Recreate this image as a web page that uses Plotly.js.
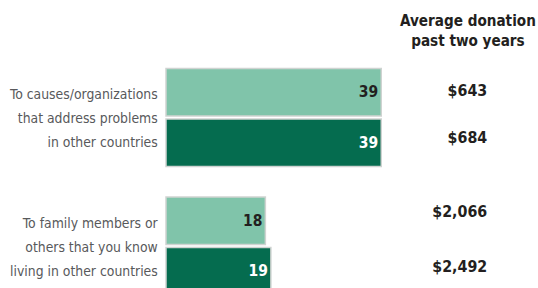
<!DOCTYPE html>
<html>
<head>
<meta charset="utf-8">
<script src="https://cdn.plot.ly/plotly-3.0.1.min.js"></script>
<style>
  html, body { margin: 0; padding: 0; background: #fff; }
  #chart { width: 538px; height: 288px; }
</style>
</head>
<body>
<div id="chart"></div>
<script>
// ---- data ----
const categories = ["To causes/organizations that address problems in other countries",
                    "To family members or others that you know living in other countries"];
const categoryLabels = [
  ["To causes/organizations", "that address problems", "in other countries"],
  ["To family members or", "others that you know", "living in other countries"]
];
const seriesA = [39, 18];          // light bars
const seriesB = [39, 19];          // dark bars
const donationA = ["$643", "$2,066"];
const donationB = ["$684", "$2,492"];
const columnTitle = ["Average donation", "past two years"];

// ---- font selection & fitting (narrow font, sized to the reference widths) ----
const cv = document.createElement("canvas").getContext("2d");
function textW(str, fam, size, weight) {
  cv.font = (weight || "normal") + " " + size + "px " + fam;
  return cv.measureText(str).width;
}
function hasFont(name) {
  const s = "abcdefghijklmnopqrstuvwxyz0123456789";
  return textW(s, "'" + name + "', monospace", 50) !== textW(s, "monospace", 50) ||
         textW(s, "'" + name + "', serif", 50) !== textW(s, "serif", 50);
}
const candidates = ["Liberation Sans Narrow", "DejaVu Sans Condensed", "Liberation Sans"];
const chosen = candidates.find(hasFont) || "Liberation Sans";
const FONT = "'" + chosen + "', sans-serif";
function fit(str, targetW, maxSize, weight) {
  const w = textW(str, FONT, 100, weight);
  return Math.min(maxSize, 100 * targetW / w);
}
const labelSize = fit("To causes/organizations", 148, 17);
const valueSize = fit("$2,066", 55, 18, "bold");
const titleSize = fit("Average donation", 136, 18, "bold");
const barTextSize = fit("39", 21, 15.5, "bold");

const lightColor = "#80c4aa";
const darkColor = "#056c4f";
const borderColor = "#cfd3d1";
const PX_PER_CAT = 128.5;                 // vertical pixels per category step
const px = p => p / PX_PER_CAT;           // pixel offset -> y units
const pos = categories.map((c, i) => i);  // category slots

const traces = [
  {
    type: "bar", orientation: "h", y: pos, x: seriesA, name: "A",
    text: seriesA.map(String), textposition: "inside", insidetextanchor: "end",
    textfont: { family: FONT, size: barTextSize, weight: "bold", color: "#231f20" },
    marker: { color: lightColor, line: { color: borderColor, width: 1.5 } },
    hoverinfo: "none"
  },
  {
    type: "bar", orientation: "h", y: pos, x: seriesB, name: "B",
    text: seriesB.map(String), textposition: "inside", insidetextanchor: "end",
    textfont: { family: FONT, size: barTextSize, weight: "bold", color: "#ffffff" },
    marker: { color: darkColor, line: { color: borderColor, width: 1.5 } },
    hoverinfo: "none"
  }
];

// left category labels (one text point per line)
const lineOffsets = [-21.5, 2.5, 26.5];
const lx = [], ly = [], lt = [];
pos.forEach((p, i) => {
  categoryLabels[i].forEach((line, j) => {
    lx.push(-1.5); ly.push(p + px(lineOffsets[j])); lt.push(line);
  });
});
traces.push({
  type: "scatter", mode: "text", x: lx, y: ly, text: lt,
  textposition: "middle left", cliponaxis: false, hoverinfo: "none",
  textfont: { family: FONT, size: labelSize, color: "#58595b" }
});

// right column values
const offA = [-25.5, -33];
const offB = [21.5, 22];
const vx = [], vy = [], vt = [];
pos.forEach((p, i) => {
  vx.push(58.2); vy.push(p + px(offA[i])); vt.push(donationA[i]);
  vx.push(58.2); vy.push(p + px(offB[i])); vt.push(donationB[i]);
});
traces.push({
  type: "scatter", mode: "text", x: vx, y: vy, text: vt,
  textposition: "middle left", cliponaxis: false, hoverinfo: "none",
  textfont: { family: FONT, size: valueSize, weight: "bold", color: "#231f20" }
});

// column title
const titleOffsets = [-95, -75];
traces.push({
  type: "scatter", mode: "text", x: [54.7, 54.7],
  y: titleOffsets.map(o => px(o)), text: columnTitle,
  textposition: "middle center", cliponaxis: false, hoverinfo: "none",
  textfont: { family: FONT, size: titleSize, weight: "bold", color: "#231f20" }
});

const layout = {
  width: 538, height: 288,
  margin: { l: 0, r: 0, t: 0, b: 0, pad: 0 },
  paper_bgcolor: "#ffffff", plot_bgcolor: "#ffffff",
  barmode: "group", bargap: 0.214, bargroupgap: 0.06,
  showlegend: false,
  xaxis: { range: [-30.08, 67.4], visible: false, fixedrange: true },
  yaxis: { range: [1.327, -0.914], visible: false, fixedrange: true },
  font: { family: FONT }
};

Plotly.newPlot("chart", traces, layout, { staticPlot: true, displayModeBar: false });
</script>
</body>
</html>
